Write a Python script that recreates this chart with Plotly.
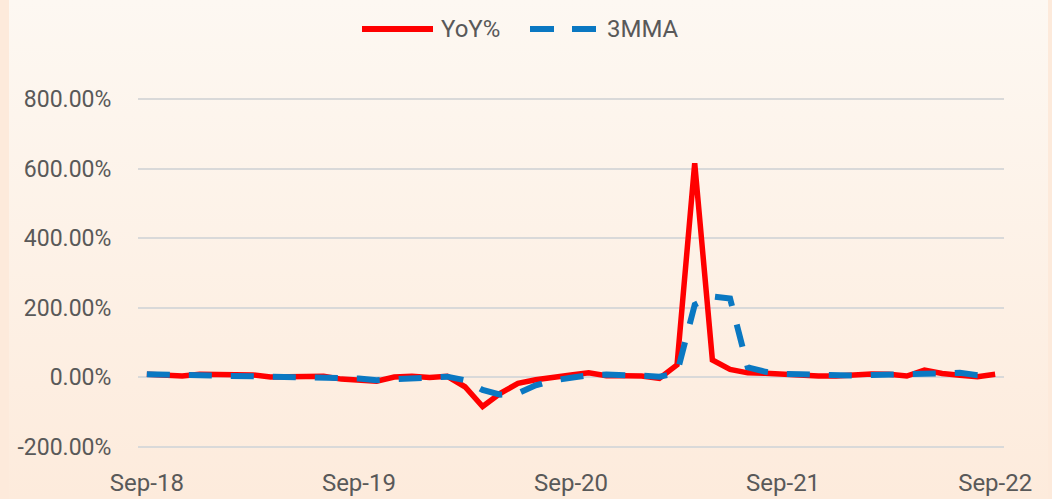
import base64
import pandas as pd
import plotly.graph_objects as go

# ---- data ----
months = list(pd.date_range("2018-09-01", periods=49, freq="MS").strftime("%b-%y"))
yoy = [8, 6, 3, 8, 7, 5, 6, 0, 1, 0, 2, -6, -8, -12, 0, 2, -1, 2, -28, -85,
       -47, -18, -8, 1, 6, 12, 4, 4, 3, -4, 35, 615, 49, 22, 12, 11, 8, 8, 3,
       3, 6, 9, 8, 3, 20, 10, 5, 1, 8]
mma3 = [8, 7, 6, 6, 6, 7, 6, 4, 2, 0, 1, -1, -4, -9, -7, -3, 0, 1, -9, -37,
        -51, -47, -24, -10, -2, 5, 7, 7, 4, 1, 11, 208, 232, 226, 28, 15, 9,
        8, 6, 5, 4, 6, 8, 7, 10, 11, 12, 5, 5]
x_tick_labels = ["Sep-18", "Sep-19", "Sep-20", "Sep-21", "Sep-22"]
y_tick_vals = [-200, 0, 200, 400, 600, 800]
y_tick_labels = ["-200.00%", "0.00%", "200.00%", "400.00%", "600.00%", "800.00%"]
series_names = ["YoY%", "3MMA"]

# ---- style ----
W, H = 1052, 499
L, R, T, B = 138, 48, 95, 33
PW, PH = W - L - R, H - T - B
RED = "#ff0000"
BLUE = "#0a78c2"
TXT = "#595959"
GRID = "#d9d9d9"
FONT = "Roboto"
YMIN, YMAX = -256, 811.5


def px(xp):
    return (xp - L) / PW


def py(yp):
    return (H - B - yp) / PH


fig = go.Figure()
fig.add_trace(go.Scatter(x=months, y=yoy, name=series_names[0], mode="lines",
                         line=dict(color=RED, width=5.5)))
fig.add_trace(go.Scatter(x=months, y=mma3, name=series_names[1], mode="lines",
                         line=dict(color=BLUE, width=6, dash="23px,19px")))

# background gradient
svg = (f'<svg xmlns="http://www.w3.org/2000/svg" width="{W}" height="{H}">'
       '<defs><linearGradient id="g" x1="0" y1="0" x2="0" y2="1">'
       '<stop offset="0" stop-color="#fdf8f2"/><stop offset="1" stop-color="#fdebdc"/>'
       '</linearGradient></defs>'
       f'<rect width="{W}" height="{H}" fill="#fdeadb"/>'
       f'<rect x="9" y="0" width="{W - 13}" height="{H}" fill="url(#g)"/></svg>')
src = "data:image/svg+xml;base64," + base64.b64encode(svg.encode()).decode()

zero_pos = (0 - YMIN) / (YMAX - YMIN)

fig.update_layout(
    width=W, height=H,
    margin=dict(l=L, r=R, t=T, b=B),
    paper_bgcolor="#fdeadb",
    plot_bgcolor="rgba(0,0,0,0)",
    showlegend=False,
    font=dict(family=FONT, color=TXT),
    images=[dict(source=src, xref="paper", yref="paper", x=-L / PW, y=1 + T / PH,
                 sizex=W / PW, sizey=H / PH, sizing="stretch", layer="below",
                 xanchor="left", yanchor="top")],
    xaxis=dict(type="category", range=[-0.5, 48.5], tickvals=x_tick_labels,
               ticks="", showgrid=False, showline=False, zeroline=False,
               automargin=False, tickfont=dict(size=24, color=TXT)),
    xaxis2=dict(type="category", overlaying="x", matches="x", anchor="free",
                position=zero_pos, side="bottom", range=[-0.5, 48.5],
                tickvals=x_tick_labels, tickson="boundaries", ticks="outside",
                ticklen=7, tickwidth=1.5, tickcolor=GRID, showticklabels=False,
                showgrid=False, showline=False, zeroline=False, automargin=False),
    yaxis=dict(range=[YMIN, YMAX], tickvals=y_tick_vals, ticktext=y_tick_labels,
               showgrid=True, gridcolor=GRID, gridwidth=2, zeroline=False,
               ticks="outside", ticklen=21, tickcolor="rgba(0,0,0,0)",
               automargin=False, tickfont=dict(size=23, color=TXT)),
)

# custom legend (matches reference's long legend keys)
ly = py(29)
fig.add_shape(type="line", xref="paper", yref="paper", x0=px(362), x1=px(433),
              y0=ly, y1=ly, line=dict(color=RED, width=6))
fig.add_shape(type="line", xref="paper", yref="paper", x0=px(530), x1=px(597),
              y0=ly, y1=ly, line=dict(color=BLUE, width=6, dash="24px,18px"))
fig.add_annotation(text=series_names[0], xref="paper", yref="paper", x=px(439), y=ly,
                   xanchor="left", yanchor="middle", showarrow=False,
                   font=dict(size=24, color=TXT, family=FONT))
fig.add_annotation(text=series_names[1], xref="paper", yref="paper", x=px(605), y=ly,
                   xanchor="left", yanchor="middle", showarrow=False,
                   font=dict(size=24, color=TXT, family=FONT))

fig.write_html(
    "out.html",
    config={"displayModeBar": False},
    post_script="document.body.style.margin='0';"
                "document.documentElement.style.overflow='hidden';",
)
